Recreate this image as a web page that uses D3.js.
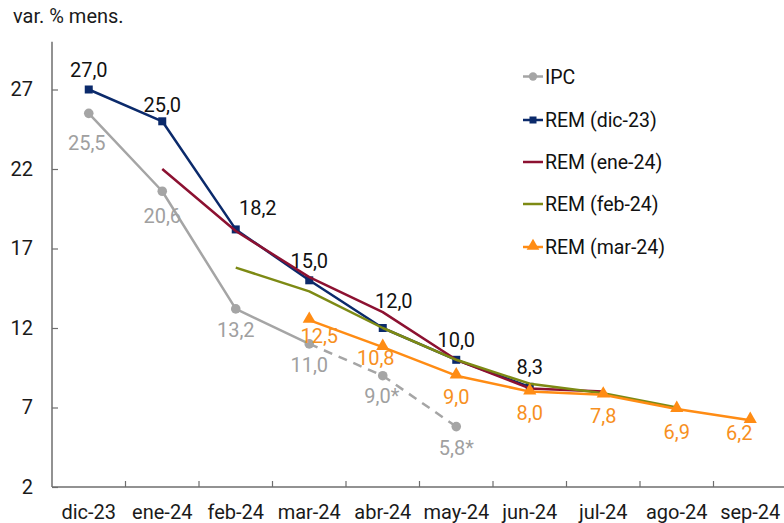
<!DOCTYPE html>
<html><head><meta charset="utf-8">
<script src="https://cdn.jsdelivr.net/npm/d3@7"></script>
<style>
body{margin:0;background:#fff;}
svg{display:block;font-family:Roboto,"Liberation Sans",sans-serif;}
</style></head>
<body><svg id="c" width="784" height="523"></svg>
<script>
const categories = ["dic-23","ene-24","feb-24","mar-24","abr-24","may-24","jun-24","jul-24","ago-24","sep-24"];
const yTicks = [2,7,12,17,22,27];
const yTitle = "var. % mens.";
const ipc = [25.5,20.6,13.2,11.0,9.0,5.8];
const ipcLabels = ["25,5","20,6","13,2","11,0","9,0*","5,8*"];
const remDic = [27.0,25.0,18.2,15.0,12.0,10.0,8.3];
const remDicLabels = ["27,0","25,0","18,2","15,0","12,0","10,0","8,3"];
const remEne = [null,22.0,18.1,15.2,13.0,10.0,8.2,8.0];
const remFeb = [null,null,15.8,14.3,12.0,10.0,8.5,7.9,7.0];
const remMar = [null,null,null,12.5,10.8,9.0,8.0,7.8,6.9,6.2];
const remMarLabels = ["12,5","10,8","9,0","8,0","7,8","6,9","6,2"];
const legendNames = ["IPC","REM (dic-23)","REM (ene-24)","REM (feb-24)","REM (mar-24)"];

const FS = 20;
const svg = d3.select("#c");
const x = d3.scaleBand().domain(categories).range([52,787]);
const y = d3.scaleLinear().domain([2,30]).range([487,41.8]);
const cx = c => x(c) + x.bandwidth()/2;

const C = {ipc:"#a5a5a5", dic:"#0b2a6b", ene:"#8c1131", feb:"#7d8a14", mar:"#ff8c14", lblOr:"#f7901e", lblGr:"#a0a0a0"};
const axisCol = "#6e6e6e";

// axes
const yAx = svg.append("g").attr("transform","translate(52,0)")
  .call(d3.axisLeft(y).tickValues(yTicks).tickSize(-6).tickPadding(19).tickFormat(d3.format("d")));
const xAx = svg.append("g").attr("transform","translate(0,487)")
  .call(d3.axisBottom(x).tickSize(-6).tickPadding(0).tickFormat(""));
[yAx,xAx].forEach(g=>{g.selectAll("path").attr("stroke",axisCol).attr("stroke-width",1.5);
  g.selectAll("line").attr("stroke",axisCol).attr("stroke-width",1.2);});
yAx.select(".domain").attr("d","M0,41.8V487");
xAx.select(".domain").attr("d","M52,0H787");
yAx.selectAll("text").attr("font-size",FS).attr("fill","#1a1a1a").attr("font-family","Roboto");
xAx.selectAll(".tick").remove();
categories.slice(1).forEach(c=>{
  xAx.append("line").attr("x1",x(c)).attr("x2",x(c)).attr("y1",0).attr("y2",-6).attr("stroke",axisCol).attr("stroke-width",1.2);
});
xAx.append("line").attr("x1",787).attr("x2",787).attr("y1",0).attr("y2",-6).attr("stroke",axisCol).attr("stroke-width",1.2);
categories.forEach(c=>{
  svg.append("text").attr("x",cx(c)).attr("y",519).attr("text-anchor","middle")
    .attr("font-size",FS).attr("fill","#1a1a1a").text(c);
});
svg.append("text").attr("x",13).attr("y",23).attr("font-size",FS).attr("fill","#1a1a1a").text(yTitle);

function pts(arr){ return arr.map((v,i)=>({c:categories[i],v})).filter(d=>d.v!=null); }
const line = d3.line().x(d=>cx(d.c)).y(d=>y(d.v));

function drawLine(data,col,w,dash){
  svg.append("path").datum(data).attr("d",line).attr("fill","none")
    .attr("stroke",col).attr("stroke-width",w).attr("stroke-dasharray",dash||null)
    .attr("stroke-linejoin","round");
}
const ipcP = pts(ipc);
const dicP = pts(remDic), eneP = pts(remEne), febP = pts(remFeb), marP = pts(remMar);

drawLine(ipcP.slice(0,4),C.ipc,2.5);
drawLine(ipcP.slice(3),C.ipc,2.5,"9,7");
svg.selectAll(".ipcm").data(ipcP).join("circle").attr("cx",d=>cx(d.c)).attr("cy",d=>y(d.v)).attr("r",4.8).attr("fill",C.ipc);

drawLine(dicP,C.dic,2.5);
svg.selectAll(".dicm").data(dicP).join("rect").attr("x",d=>cx(d.c)-4).attr("y",d=>y(d.v)-4).attr("width",8).attr("height",8).attr("fill",C.dic);
drawLine(eneP,C.ene,2.5);
drawLine(febP,C.feb,2.5);
drawLine(marP,C.mar,2.5);
const tri = d3.symbol().type(d3.symbolTriangle).size(75);
svg.selectAll(".marm").data(marP).join("path").attr("d",tri)
  .attr("transform",d=>`translate(${cx(d.c)},${y(d.v)-1})`).attr("fill",C.mar);

// labels
const dicOff = [[0,-13],[0,-9],[22,-14],[0,-12],[11,-20],[0,-13],[0,-13]];
const ipcOff = [[-2,37],[0,32],[0,28],[0,28],[-1,27],[0,28]];
const marOff = [[10,23],[-7,18],[0,28],[0,28],[0,28],[0,30],[-11,20]];
function labels(P,txt,off,col){
  P.forEach((d,i)=>{
    svg.append("text").attr("x",cx(d.c)+off[i][0]).attr("y",y(d.v)+off[i][1])
      .attr("text-anchor","middle").attr("font-size",FS).attr("fill",col).text(txt[i]);
  });
}
labels(dicP,remDicLabels,dicOff,"#111");
labels(ipcP,ipcLabels,ipcOff,C.lblGr);
labels(marP,remMarLabels,marOff,C.lblOr);

// legend
const legCols = [C.ipc,C.dic,C.ene,C.feb,C.mar];
const legY = [76.5,120,162,204,247];
legendNames.forEach((n,i)=>{
  const g = svg.append("g").attr("transform",`translate(523,${legY[i]})`);
  g.append("line").attr("x1",0).attr("x2",20).attr("stroke",legCols[i]).attr("stroke-width",2.5);
  if(i===0) g.append("circle").attr("cx",10).attr("r",4.2).attr("fill",legCols[i]);
  if(i===1) g.append("rect").attr("x",6.5).attr("y",-3.5).attr("width",7).attr("height",7).attr("fill",legCols[i]);
  if(i===4) g.append("path").attr("d",d3.symbol().type(d3.symbolTriangle).size(70)).attr("transform","translate(10,-1)").attr("fill",legCols[i]);
  g.append("text").attr("x",22).attr("y",7).attr("font-size",19.5).attr("fill","#111").text(n);
});
</script></body></html>
